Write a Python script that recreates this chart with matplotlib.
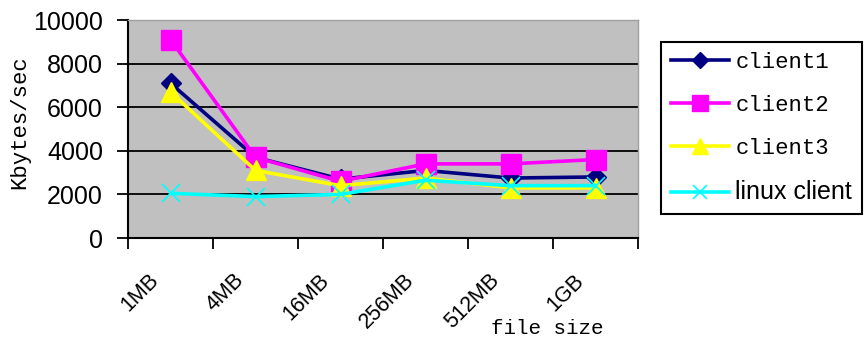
import numpy as np
import matplotlib
matplotlib.use("Agg")
import matplotlib.pyplot as plt
import matplotlib.transforms as mtransforms

# data
sizes = ["1MB", "4MB", "16MB", "256MB", "512MB", "1GB"]
client1 = [7100, 3700, 2700, 3100, 2750, 2800]
client2 = [9100, 3700, 2600, 3400, 3400, 3600]
client3 = [6700, 3100, 2400, 2750, 2300, 2300]
linux_client = [2050, 1900, 2000, 2650, 2400, 2400]
yticks = [0, 2000, 4000, 6000, 8000, 10000]

fig = plt.figure(figsize=(8.67, 3.41), dpi=100, facecolor="w")
ax = fig.add_axes([128/867, 1-238/341, (638-128)/867, (238-20)/341])
ax.set_facecolor("#c0c0c0")

x = np.arange(len(sizes)) + 0.5
ax.plot(x, client1, color="#000080", lw=2.6, marker="D", ms=10, label="client1")
ax.plot(x, client2, color="#ff00ff", lw=2.6, marker="s", ms=14, label="client2")
ax.plot(x, client3, color="#ffff00", lw=2.6, marker="^", ms=14, label="client3")
ax.plot(x, linux_client, color="#00ffff", lw=2.6, marker="x", ms=13, mew=1.2,
        label="linux client")

ax.set_xlim(0, len(sizes))
ax.set_ylim(0, 10000)
ax.set_yticks(yticks)
ax.set_yticklabels([str(v) for v in yticks], fontsize=18, family="Liberation Sans")
ax.yaxis.grid(True, color="black", lw=1.3)
ax.set_axisbelow(True)

# tick marks on category boundaries, labels at category centres
ax.set_xticks(np.arange(len(sizes) + 1))
ax.set_xticklabels([])
ax.set_xticks(x, minor=True)
ax.set_xticklabels(sizes, minor=True, rotation=45, ha="right", va="top",
                   rotation_mode="anchor", fontsize=15.5, family="Liberation Sans")
ax.tick_params(axis="x", which="minor", length=0, pad=23)
ax.tick_params(axis="x", which="major", length=8, width=1.3, direction="out")
ax.tick_params(axis="y", length=8, width=1.3, direction="out", pad=10)
off = mtransforms.ScaledTranslation(-22/100, 0, fig.dpi_scale_trans)
for lab in ax.get_xticklabels(minor=True):
    lab.set_transform(lab.get_transform() + off)

for s in ["left", "bottom"]:
    ax.spines[s].set_color("black")
    ax.spines[s].set_linewidth(1.5)
for s in ["top", "right"]:
    ax.spines[s].set_color("#a0a0a0")
    ax.spines[s].set_linewidth(1.0)

ax.set_ylabel("Kbytes/sec", family="Liberation Mono", fontsize=16)
ax.yaxis.set_label_coords(-98/510, (238-122)/218)
fig.text(547/867, 1-329/341, "file size", family="Liberation Mono", fontsize=15,
         ha="center", va="center")

leg = fig.legend(loc="upper left", bbox_to_anchor=(661/867, 1-42/341),
                 borderaxespad=0, fancybox=False, edgecolor="black",
                 framealpha=1, fontsize=16, labelspacing=0.98, handlelength=2.6,
                 handletextpad=0.3, borderpad=0.45, markerscale=0.8)
leg.get_frame().set_linewidth(1.5)
for t in leg.get_texts()[:3]:
    t.set_family("Liberation Mono")
leg.get_texts()[3].set_family("Liberation Sans")
leg.get_texts()[3].set_fontsize(18)

fig.savefig("out.png", dpi=100)
